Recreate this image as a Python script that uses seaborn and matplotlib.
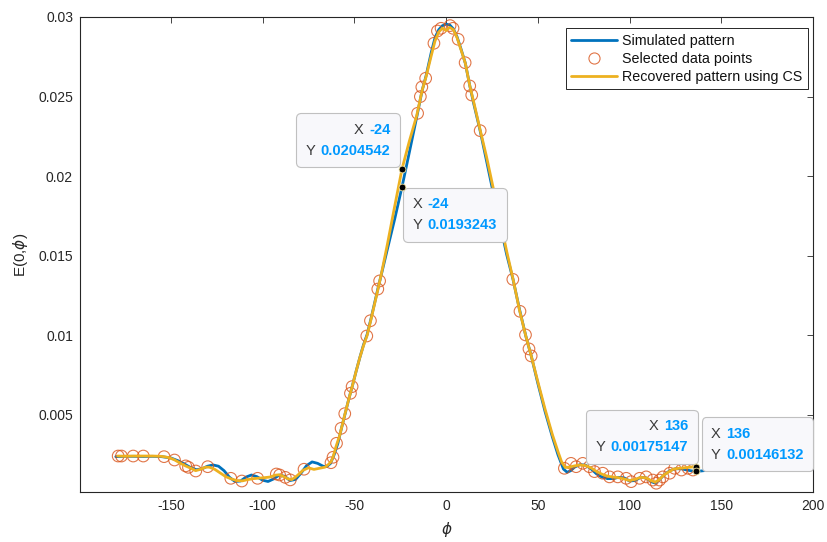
import matplotlib
matplotlib.use("Agg")
import matplotlib.pyplot as plt
import pandas as pd
import seaborn as sns
from matplotlib.lines import Line2D
from matplotlib.offsetbox import TextArea, HPacker, VPacker, AnnotationBbox

# Simulated radiation pattern E(0, phi)
sim_phi = [-180, -175, -170, -165, -160, -155, -150, -146, -142, -139, -136, -133, -130, -127,
           -124, -121, -118, -115, -112, -109, -106, -103, -100, -97, -94, -91, -88, -85, -82,
           -79, -76, -73, -70, -67, -65, -63, -61, -59, -57, -55, -53, -51, -49, -47, -45, -43,
           -41, -39, -37, -35, -32, -28, -24, -20, -16, -13, -11, -8, -6, -4, -2, 0, 2, 4, 6, 8,
           10.5, 13, 15, 18.5, 22, 26, 30, 33, 36.5, 40, 43.5, 46.5, 50, 54, 58, 61, 64, 66, 68,
           70, 73, 76, 79, 82, 85, 88, 91, 94, 97, 100, 103, 106, 109, 112, 114, 116, 119, 122,
           125, 128, 131, 134, 136, 139, 142]
sim_E = [0.00238, 0.00240, 0.00240, 0.00239, 0.00240, 0.00238, 0.00230, 0.00212, 0.00188,
         0.00168, 0.00156, 0.00162, 0.00178, 0.00186, 0.00178, 0.00150, 0.00108, 0.00082,
         0.00085, 0.00110, 0.00123, 0.00112, 0.00090, 0.00082, 0.00098, 0.00122, 0.00115,
         0.00088, 0.00095, 0.00135, 0.00182, 0.00205, 0.00196, 0.00178, 0.00176, 0.00195,
         0.00250, 0.00320, 0.00416, 0.00508, 0.00600, 0.00685, 0.00775, 0.00860, 0.00940,
         0.01006, 0.01100, 0.01200, 0.01300, 0.01395, 0.01540, 0.01730, 0.0193243, 0.02150,
         0.02370, 0.02540, 0.02625, 0.02780, 0.02870, 0.02920, 0.02945, 0.02955, 0.02950,
         0.02925, 0.02875, 0.02805, 0.02710, 0.02565, 0.02460, 0.02290, 0.02100, 0.01880,
         0.01670, 0.01510, 0.01352, 0.01165, 0.00995, 0.00868, 0.00700, 0.00520, 0.00360,
         0.00250, 0.00160, 0.00140, 0.00150, 0.00172, 0.00188, 0.00185, 0.00162, 0.00130,
         0.00110, 0.00100, 0.00100, 0.00108, 0.00105, 0.00085, 0.00088, 0.00108, 0.00105,
         0.00080, 0.00072, 0.00090, 0.00125, 0.00150, 0.00162, 0.00162, 0.00155, 0.00148,
         0.00146132, 0.00148, 0.00152]

# Pattern recovered with compressive sensing
rec_phi = [-179, -175, -170, -165, -160, -155, -151, -148, -145, -142, -139, -136.5, -134, -131,
           -129, -126, -123, -120, -117, -114, -111, -108, -105, -102, -99, -96, -93, -91, -89,
           -86, -84, -81, -78, -75, -72, -69, -66, -64, -62.5, -61.5, -60, -58, -56.5, -55, -53,
           -51, -49, -47, -45, -43, -41, -39, -37, -35, -32, -28, -24, -20, -16, -13, -11, -8,
           -6, -4, -2, 0, 2, 4, 6, 8, 10.5, 13, 15, 18.5, 22, 26, 30, 33, 36.5, 40, 43.5, 46.5,
           50, 54, 58, 61, 63, 65, 67, 70, 73, 76, 79, 82, 85, 88, 91, 94, 97, 100, 103, 106,
           109, 112, 114, 116, 118.5, 121, 124, 127, 130, 133, 136]
rec_E = [0.00242, 0.00241, 0.00242, 0.00242, 0.00242, 0.00240, 0.00232, 0.00218, 0.00198,
         0.00180, 0.00165, 0.00150, 0.00158, 0.00172, 0.00172, 0.00158, 0.00135, 0.00112,
         0.00098, 0.00088, 0.00086, 0.00094, 0.00100, 0.00103, 0.00106, 0.00110, 0.00122,
         0.00124, 0.00116, 0.00098, 0.00094, 0.00120, 0.00152, 0.00168, 0.00158, 0.00165,
         0.00172, 0.00190, 0.00210, 0.00240, 0.00300, 0.00370, 0.00440, 0.00510, 0.00600,
         0.00685, 0.00775, 0.00860, 0.00935, 0.01000, 0.01095, 0.01195, 0.01295, 0.01400,
         0.01570, 0.01810, 0.0204542, 0.02220, 0.02380, 0.02540, 0.02620, 0.02760, 0.02850,
         0.02905, 0.02930, 0.02915, 0.02935, 0.02920, 0.02870, 0.02800, 0.02710, 0.02565,
         0.02470, 0.02295, 0.02125, 0.01910, 0.01695, 0.01530, 0.01355, 0.01160, 0.00995,
         0.00868, 0.00710, 0.00535, 0.00375, 0.00270, 0.00205, 0.00170, 0.00172, 0.00180,
         0.00186, 0.00182, 0.00168, 0.00145, 0.00128, 0.00115, 0.00110, 0.00106, 0.00098,
         0.00088, 0.00095, 0.00108, 0.00105, 0.00086, 0.00078, 0.00092, 0.00120, 0.00140,
         0.00160, 0.00165, 0.00168, 0.00172, 0.00175147]

# Samples used for the reconstruction
sel_phi = [-178.7, -176.9, -170.5, -165, -153.7, -148, -141.9, -140.4, -136.4, -129.9, -117.3,
           -111.3, -102.7, -92.5, -90.7, -87.6, -84.9, -77.4, -62.7, -61.6, -59.7, -57.2, -55.2,
           -52.1, -51.2, -43.2, -41.2, -37.2, -36.2, -15.5, -14.0, -13.2, -11.1, -6.6, -4.7,
           -2.7, 2.2, 3.8, 6.6, 10.4, 12.9, 14.0, 18.6, 36.4, 40.3, 43.3, 45.2, 46.4, 64.5,
           68.1, 70.9, 74.5, 78.1, 80.9, 85.4, 89.1, 93.6, 98.2, 100.9, 105.5, 109.1, 112.7,
           114.6, 116.4, 118.2, 121.9, 124.6, 128.3, 131.9, 134.6]
sel_E = [0.00242, 0.00242, 0.00242, 0.00242, 0.00238, 0.00217, 0.00180, 0.00171, 0.00148,
         0.00175, 0.00102, 0.00085, 0.00102, 0.00129, 0.00123, 0.00108, 0.00092, 0.00159,
         0.00200, 0.00234, 0.00322, 0.00416, 0.00508, 0.00636, 0.00678, 0.00996, 0.01092,
         0.01291, 0.01342, 0.02395, 0.02500, 0.02560, 0.02615, 0.02835, 0.02912, 0.02929,
         0.02946, 0.02929, 0.02860, 0.02713, 0.02567, 0.02510, 0.02286, 0.01352, 0.01151,
         0.01003, 0.00915, 0.00871, 0.00165, 0.00196, 0.00175, 0.00196, 0.00175, 0.00144,
         0.00134, 0.00111, 0.00111, 0.00102, 0.00081, 0.00102, 0.00111, 0.00091, 0.00071,
         0.00091, 0.00111, 0.00134, 0.00165, 0.00154, 0.00165, 0.00154]

# Data tips
tip_phi = [-24, -24, 136, 136]
tip_E = [0.0204542, 0.0193243, 0.00175147, 0.00146132]
tip_text_x = ["-24", "-24", "136", "136"]
tip_text_y = ["0.0204542", "0.0193243", "0.00175147", "0.00146132"]

x_ticks = [-150, -100, -50, 0, 50, 100, 150, 200]
y_ticks = [0.005, 0.01, 0.015, 0.02, 0.025, 0.03]
y_tick_labels = ["0.005", "0.01", "0.015", "0.02", "0.025", "0.03"]

BLUE = "#0072BD"
ORANGE = "#D95319"
YELLOW = "#EDB120"
AXIS = "#262626"
TIP_VAL = "#0099FF"

sns.set_theme(style="white")
plt.rcParams["font.family"] = ["Liberation Sans", "DejaVu Sans"]
plt.rcParams["font.size"] = 10
plt.rcParams["axes.edgecolor"] = AXIS
plt.rcParams["axes.linewidth"] = 0.8
plt.rcParams["xtick.color"] = AXIS
plt.rcParams["ytick.color"] = AXIS

sim = pd.DataFrame({"phi": sim_phi, "E": sim_E})
rec = pd.DataFrame({"phi": rec_phi, "E": rec_E})
sel = pd.DataFrame({"phi": sel_phi, "E": sel_E})

fig = plt.figure(figsize=(8.28, 5.42), dpi=100)
ax = fig.add_axes([80 / 828, 1 - 492 / 542, (813 - 80) / 828, (492 - 17) / 542])

sns.lineplot(data=sim, x="phi", y="E", ax=ax, color=BLUE, lw=2.0, estimator=None, sort=False)
sns.scatterplot(data=sel, x="phi", y="E", ax=ax, marker="o", s=70, facecolor="none",
                edgecolor=ORANGE, linewidth=0.8, alpha=0.8, zorder=3)
sns.lineplot(data=rec, x="phi", y="E", ax=ax, color=YELLOW, lw=2.0, estimator=None, sort=False,
             zorder=4)

ax.set_xlim(-199.5, 200)
ax.set_ylim(0.00016, 0.03)
ax.set_xticks(x_ticks)
ax.set_xticklabels([str(v) for v in x_ticks])
ax.set_yticks(y_ticks)
ax.set_yticklabels(y_tick_labels)
ax.tick_params(direction="in", length=4, width=0.6, labelsize=10, colors=AXIS,
               top=True, right=True, pad=5)
for sp in ax.spines.values():
    sp.set_visible(True)
    sp.set_color(AXIS)
    sp.set_linewidth(0.8)
ax.set_xlabel(r"$\phi$", fontsize=11, color=AXIS, labelpad=5)
ax.set_ylabel(r"E(0,$\phi$)", fontsize=11, color=AXIS, labelpad=6)

handles = [Line2D([], [], color=BLUE, lw=2.0),
           Line2D([], [], ls="none", marker="o", markersize=8, markerfacecolor="none",
                  markeredgecolor=ORANGE, markeredgewidth=0.8, alpha=0.8),
           Line2D([], [], color=YELLOW, lw=2.0)]
leg = ax.legend(handles, ["Simulated pattern", "Selected data points", "Recovered pattern using CS"],
                loc="upper right", bbox_to_anchor=(0.9935, 0.977), fontsize=10.3, frameon=True,
                fancybox=False, edgecolor=AXIS, framealpha=1, handlelength=3.2,
                handletextpad=0.35, labelspacing=0.28, borderpad=0.4, borderaxespad=0)
leg.get_frame().set_linewidth(0.7)
for t in leg.get_texts():
    t.set_color("#111111")

# data tip markers
ax.scatter(tip_phi, tip_E, s=24, color="black", edgecolor="#F5E6A0", linewidth=0.6, zorder=10)

# data tip boxes: (anchor alignment, pixel offset, row alignment)
tip_layout = [((1, 0), (-2, 2), "right"),
              ((0, 1), (1, -1), "left"),
              ((1, 0), (2, 3), "right"),
              ((0, 0), (6, 0), "left")]
for i, (align, off, rowalign) in enumerate(tip_layout):
    rows = []
    for lab, val in (("X", tip_text_x[i]), ("Y", tip_text_y[i])):
        rows.append(HPacker(children=[
            TextArea(lab, textprops=dict(color="#3A3A3A", fontsize=10.5)),
            TextArea(val, textprops=dict(color=TIP_VAL, fontsize=10.5, fontweight="bold"))],
            align="baseline", pad=0, sep=4))
    box = VPacker(children=rows, align=rowalign, pad=6.8, sep=5)
    ab = AnnotationBbox(box, (tip_phi[i], tip_E[i]), xycoords="data", xybox=off,
                        boxcoords="offset pixels", box_alignment=align, pad=0,
                        frameon=True, zorder=8,
                        bboxprops=dict(boxstyle="round,pad=0,rounding_size=0.3",
                                       fc="#F8F8FB", ec="#C0C0C0", lw=0.8))
    ax.add_artist(ab)

fig.savefig("out.png", dpi=100)
